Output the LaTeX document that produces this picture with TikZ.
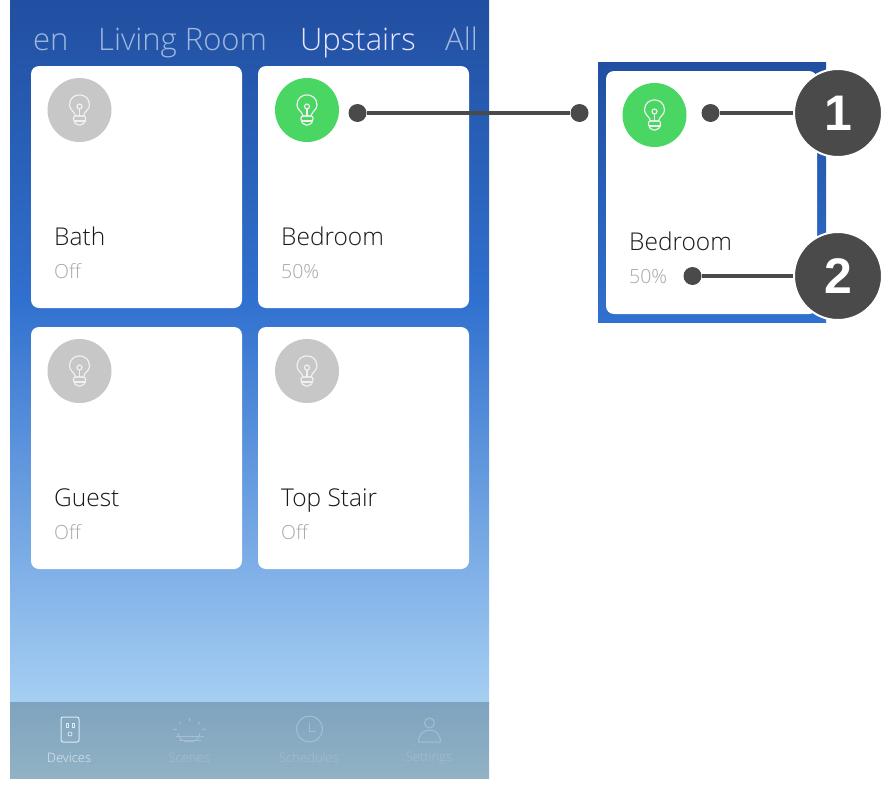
\documentclass[tikz,border=0pt]{standalone}
\usepackage{fontspec}
\setmainfont{Open Sans Light}
\newfontfamily\badgefont{Liberation Sans}
\usepackage{xcolor}
\definecolor{topblue}{rgb}{0.13,0.31,0.63}
\definecolor{midblue}{rgb}{0.19,0.44,0.81}
\definecolor{lowblue}{rgb}{0.65,0.81,0.95}
\definecolor{bartop}{rgb}{0.50,0.64,0.75}
\definecolor{barlow}{rgb}{0.57,0.70,0.77}
\definecolor{bulbgreen}{rgb}{0.29,0.84,0.39}
\definecolor{bulbgrey}{rgb}{0.78,0.78,0.78}
\definecolor{badgegrey}{rgb}{0.29,0.29,0.29}
\definecolor{offtext}{rgb}{0.66,0.66,0.66}
\definecolor{navdim}{rgb}{0.64,0.75,0.83}
\definecolor{navon}{rgb}{0.87,0.92,0.95}
\definecolor{tabdim}{rgb}{0.62,0.72,0.87}
\tikzset{
	card/.style={fill=white,rounded corners=8pt},
	lamp/.style={circle,minimum size=64pt,inner sep=0pt},
	room/.style={anchor=base west,inner xsep=0pt,font=\fontsize{24.5}{25}\selectfont,text=black!90},
	state/.style={anchor=base west,inner xsep=0pt,font=\fontsize{19.5}{20}\selectfont,text=offtext},
	tab/.style={anchor=base west,inner xsep=0pt,font=\fontsize{31}{31}\selectfont,text=tabdim},
	navlabel/.style={font=\fontsize{13}{13}\selectfont,text=navdim},
	tip/.style={circle,fill=badgegrey,minimum size=18pt,inner sep=0pt},
	leader/.style={badgegrey,line width=3.6pt},
	badge/.style={circle,fill=badgegrey,draw=white,line width=2pt,minimum size=88pt,inner sep=0pt,text=white,font=\badgefont\bfseries\fontsize{50}{50}\selectfont},
	navline/.style={line width=1pt,draw=navdim},
	bulbline/.style={white!88!gray,line width=1.2pt},
	bulbicon/.pic={
		\draw[bulbline] (-4,6) .. controls (-5,1) and (-10,0) .. (-10,-5) .. controls (-10,-18.5) and (10,-18.5) .. (10,-5) .. controls (10,0) and (5,1) .. (4,6) -- cycle;
		\draw[bulbline,rounded corners=2pt] (-6,6) -- (-6,11) -- (-3,15) -- (3,15) -- (6,11) -- (6,6) -- cycle;
		\draw[bulbline] (-6,11) -- (6,11) (0,6) -- (0,-1);
		\draw[bulbline] (0,-3.5) circle (2.5);
	}
}
\begin{document}
\begin{tikzpicture}[x=1pt,y=-1pt]
	\useasboundingbox (0,0) rectangle (896,787);
	
	% Phone background
	\shade[top color=topblue,bottom color=midblue] (10,0) rectangle (489,300);
	\shade[top color=midblue,bottom color=lowblue] (10,300) rectangle (489,702);
	\shade[top color=bartop,bottom color=barlow] (10,702) rectangle (489,778);
	
	% Tabs
	\node[tab] (tabkitchen) at (33,50) {en};
	\node[tab] (tabliving) at (98,50) {Living Room};
	\node[tab,text=white!90!blue] (tabupstairs) at (300,50) {Upstairs};
	\node[tab] (taball) at (445,50) {All};
	
	% Cards
	\fill[card] (31,66) rectangle (242,308);
	\fill[card] (258,66) rectangle (469,308);
	\fill[card] (31,327) rectangle (242,569);
	\fill[card] (258,327) rectangle (469,569);
	
	% Lamps
	\node[lamp,fill=bulbgrey] (lampbath) at (79.5,110) {};
	\node[lamp,fill=bulbgreen] (lampbed) at (307,110) {};
	\node[lamp,fill=bulbgrey] (lampguest) at (79.5,371) {};
	\node[lamp,fill=bulbgrey] (lampstair) at (307,371) {};
	\pic at (lampbath) {bulbicon};
	\pic at (lampbed) {bulbicon};
	\pic at (lampguest) {bulbicon};
	\pic at (lampstair) {bulbicon};
	
	% Room names
	\node[room] (bath) at (54,245) {Bath};
	\node[state] (bathoff) at (54,278) {Off};
	\node[room] (bedroom) at (281,245) {Bedroom};
	\node[state] (bedpct) at (281,278) {50\%};
	\node[room] (guest) at (54,506) {Guest};
	\node[state] (guestoff) at (54,539) {Off};
	\node[room] (topstair) at (281,506) {Top Stair};
	\node[state] (stairoff) at (281,539) {Off};
	
	% Nav bar labels
	\node[navlabel,text=navon] (devices) at (69,758) {Devices};
	\node[navlabel] (scenes) at (189,758) {Scenes};
	\node[navlabel] (schedules) at (309,758) {Schedules};
	\node[navlabel] (settings) at (429,758) {Settings};
	
	% Nav bar icons
	\draw[navline,draw=navon,rounded corners=2pt] (61,717) rectangle (79,742);
	\draw[navline,draw=navon,line width=.7pt] (66,723) rectangle (68,727) (72,723) rectangle (74,727);
	\draw[navline,draw=navon,line width=.7pt] (70,734) circle (2);
	\draw[navline] (178,733) arc (180:0:11 and 9);
	\draw[navline] (176,736) -- (204,736) (179,740) -- (201,740);
	\draw[navline] (189.5,718) -- (189.5,721) (179,722) -- (181,724) (200,722) -- (198,724) (173,729) -- (177,730) (206,729) -- (202,730);
	\draw[navline] (309.5,729) circle (13);
	\draw[navline] (309.5,723) -- (309.5,731) -- (316,731);
	\draw[navline] (429.5,723) circle (5);
	\draw[navline] (418.5,742) .. controls (418.5,726) and (440.5,726) .. (440.5,742) -- cycle;
	
	% Zoomed card on the right
	\shade[top color=topblue,bottom color=midblue] (598,62) rectangle (826,322);
	\fill[card] (606,71) rectangle (817,314);
	\node[lamp,fill=bulbgreen] (lampzoom) at (654.5,115) {};
	\pic at (lampzoom) {bulbicon};
	\node[room] (bedroomzoom) at (629,250) {Bedroom};
	\node[state] (pctzoom) at (629,283) {50\%};
	
	% Badges and leader lines
	\node[badge] (badgeone) at (838,113) {1};
	\node[badge] (badgetwo) at (838,276) {2};
	\node[tip] (tipa) at (357.5,113) {};
	\node[tip] (tipb) at (579.5,113) {};
	\node[tip] (tipc) at (710.5,113) {};
	\node[tip] (tipd) at (692.5,276) {};
	\draw[leader] (tipa) -- (tipb);
	\draw[leader] (tipc) -- (badgeone);
	\draw[leader] (tipd) -- (badgetwo);
	
\end{tikzpicture}
\end{document}
